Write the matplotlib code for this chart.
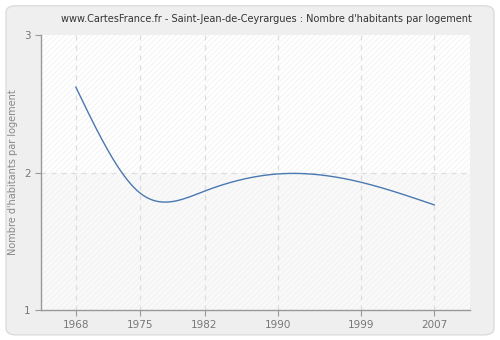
import numpy as np
import matplotlib
matplotlib.use('Agg')
import matplotlib.pyplot as plt
from matplotlib.patches import FancyBboxPatch

years = [1968, 1975, 1982, 1990, 1999, 2007]
values = [2.62, 1.85, 1.865, 1.99, 1.93, 1.765]
yticks = [1, 2, 3]

title = "www.CartesFrance.fr - Saint-Jean-de-Ceyrargues : Nombre d'habitants par logement"
ylabel = "Nombre d'habitants par logement"

plt.rcParams['hatch.linewidth'] = 0.5


def smooth(x, y, n=300):
    # natural cubic spline, only used to draw the line smoothly
    x = np.asarray(x, float)
    y = np.asarray(y, float)
    k = len(x)
    h = np.diff(x)
    A = np.zeros((k, k))
    b = np.zeros(k)
    A[0, 0] = 1
    A[-1, -1] = 1
    for i in range(1, k - 1):
        A[i, i - 1] = h[i - 1]
        A[i, i] = 2 * (h[i - 1] + h[i])
        A[i, i + 1] = h[i]
        b[i] = 6 * ((y[i + 1] - y[i]) / h[i] - (y[i] - y[i - 1]) / h[i - 1])
    M = np.linalg.solve(A, b)
    xs = np.linspace(x[0], x[-1], n)
    idx = np.clip(np.searchsorted(x, xs) - 1, 0, k - 2)
    x0, x1 = x[idx], x[idx + 1]
    hh = x1 - x0
    t0 = x1 - xs
    t1 = xs - x0
    ys = (M[idx] * t0 ** 3 + M[idx + 1] * t1 ** 3) / (6 * hh) \
        + (y[idx] / hh - M[idx] * hh / 6) * t0 \
        + (y[idx + 1] / hh - M[idx + 1] * hh / 6) * t1
    return xs, ys


fig = plt.figure(figsize=(5, 3.4), dpi=100)
fig.patch.set_facecolor('white')
bg = FancyBboxPatch((0.012, 0.015), 0.976, 0.968, boxstyle='round,pad=0,rounding_size=0.02',
                    transform=fig.transFigure, facecolor='#efefef', edgecolor='#dcdcdc',
                    linewidth=1, zorder=-10)
fig.patches.append(bg)

ax = fig.add_axes([0.082, 0.088, 0.858, 0.809])
ax.set_zorder(5)
ax.set_facecolor('white')
ax.set_xlim(1964.2, 2010.9)
ax.set_ylim(1, 3)

ax.axhspan(1, 2, facecolor='#f9f9f9', edgecolor='#efefef', hatch='//////', linewidth=0, zorder=0)
ax.axhspan(2, 3, facecolor='#ffffff', edgecolor='#efefef', hatch='//////', linewidth=0, zorder=0)

for yr in years:
    ax.axvline(yr, color='#dddddd', linestyle=(0, (4, 4)), linewidth=0.9, zorder=1)
ax.axhline(2, color='#dddddd', linestyle=(0, (4, 4)), linewidth=0.9, zorder=1)

xs, ys = smooth(years, values)
ax.plot(xs, ys, color='#4a78b0', linewidth=1.0, zorder=3)

ax.set_xticks(years)
ax.set_xticklabels([str(y) for y in years])
ax.set_yticks(yticks)
ax.tick_params(axis='both', colors='#999999', labelcolor='#777777', labelsize=7.5,
               length=4, width=0.8)
for s in ['top', 'right']:
    ax.spines[s].set_visible(False)
for s in ['left', 'bottom']:
    ax.spines[s].set_color('#999999')
    ax.spines[s].set_linewidth(1)

ax.set_ylabel(ylabel, color='#888888', fontsize=7, labelpad=4)
fig.text(0.532, 0.945, title, ha='center', va='center', fontsize=7, color='#333333')

fig.savefig('out.png', dpi=100)
